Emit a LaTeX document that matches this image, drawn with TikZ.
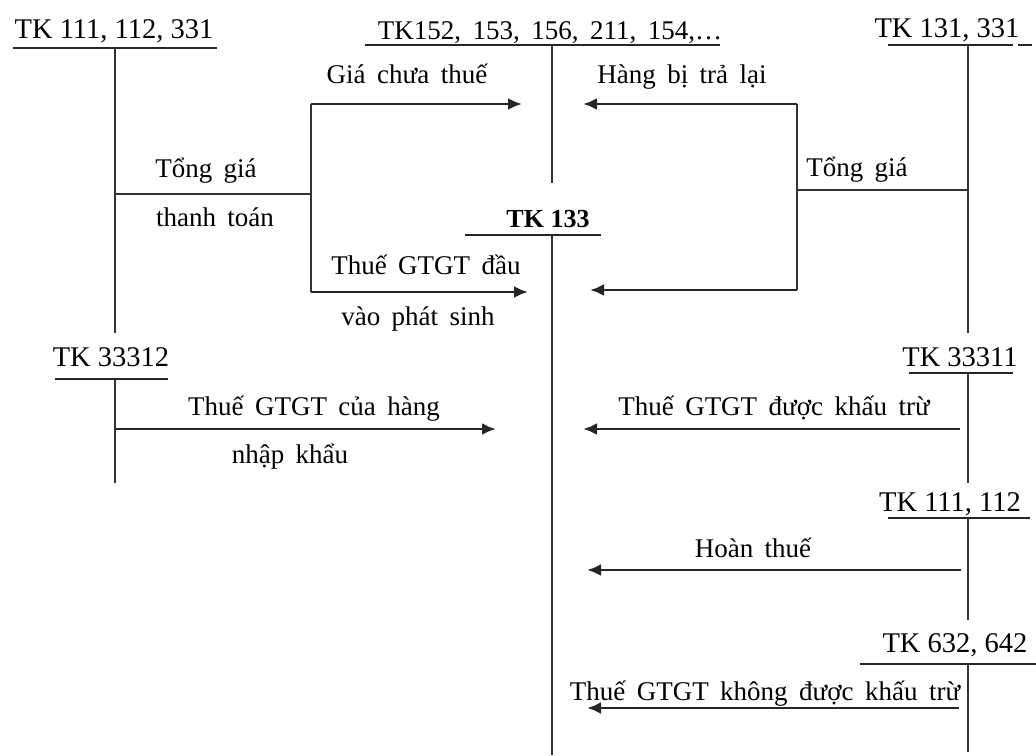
\documentclass[tikz,border=0pt]{standalone}
\usepackage{fontspec}
\setmainfont{Liberation Serif}
\newfontfamily\widefont[WordSpace=1.7]{Liberation Serif}
\usetikzlibrary{arrows.meta}
\begin{document}
\begin{tikzpicture}[x=1pt,y=-1pt,
  txt/.style={inner sep=0pt,anchor=base,font=\fontsize{28.5}{32}\selectfont},
  lbl/.style={inner sep=0pt,anchor=base,font=\widefont\fontsize{27}{32}\selectfont},
  acct/.style={line width=2pt,draw=black!80},
  uline/.style={line width=2.8pt,draw=black!85},
  link/.style={line width=2pt,draw=black!80},
  flow/.style={line width=2.8pt,draw=black!85,-{Latex[length=14pt,width=12pt]}}]
\useasboundingbox (0,0) rectangle (1036,755);

% account headings
\node[txt] (h1) at (114,38) {TK 111, 112, 331};
\node[lbl] (h2) at (550,39) {TK152, 153, 156, 211, 154,\ldots};
\node[txt] (h3) at (947,37) {TK 131, 331};
\node[txt,font=\bfseries\fontsize{26}{32}\selectfont] (h4) at (548,227) {TK 133};
\node[txt] (h5) at (111,366) {TK 33312};
\node[txt] (h6) at (960,366) {TK 33311};
\node[txt] (h7) at (950,511) {TK 111, 112};
\node[txt] (h8) at (955,652) {TK 632, 642};

% T-account bars
\coordinate (u1a) at (13,48);   \coordinate (u1b) at (217,48);
\coordinate (u2a) at (365,45);  \coordinate (u2b) at (720,45);
\coordinate (u3a) at (888,45);  \coordinate (u3b) at (1013,45);
\coordinate (u3c) at (1018,45); \coordinate (u3d) at (1032,45);
\coordinate (u4a) at (465,235); \coordinate (u4b) at (601,235);
\coordinate (u5a) at (55,379);  \coordinate (u5b) at (168,379);
\coordinate (u6a) at (909,373); \coordinate (u6b) at (1013,373);
\coordinate (u7a) at (888,518); \coordinate (u7b) at (1030,518);
\coordinate (u8a) at (860,664); \coordinate (u8b) at (1036,664);
\draw[uline] (u1a) -- (u1b);
\draw[uline] (u2a) -- (u2b);
\draw[uline] (u3a) -- (u3b);
\draw[uline] (u3c) -- (u3d);
\draw[uline] (u4a) -- (u4b);
\draw[uline] (u5a) -- (u5b);
\draw[uline] (u6a) -- (u6b);
\draw[uline] (u7a) -- (u7b);
\draw[uline] (u8a) -- (u8b);

% vertical stems
\coordinate (v1t) at (115,48);  \coordinate (v1b) at (115,333);
\coordinate (v2t) at (552,45);  \coordinate (v2b) at (552,183);
\coordinate (v3t) at (968,45);  \coordinate (v3b) at (968,333);
\coordinate (v4t) at (552,235); \coordinate (v4b) at (552,755);
\coordinate (v5t) at (115,379); \coordinate (v5b) at (115,483);
\coordinate (v6t) at (968,373); \coordinate (v6b) at (968,483);
\coordinate (v7t) at (968,518); \coordinate (v7b) at (968,620);
\coordinate (v8t) at (968,664); \coordinate (v8b) at (968,752);
\draw[acct] (v1t) -- (v1b);
\draw[acct] (v2t) -- (v2b);
\draw[acct] (v3t) -- (v3b);
\draw[acct] (v4t) -- (v4b);
\draw[acct] (v5t) -- (v5b);
\draw[acct] (v6t) -- (v6b);
\draw[acct] (v7t) -- (v7b);
\draw[acct] (v8t) -- (v8b);

% purchase: total price split into net price and input VAT
\coordinate (lA) at (115,194);
\coordinate (lB) at (311,194);
\coordinate (lT) at (311,104);
\coordinate (lD) at (311,292);
\coordinate (lTe) at (522,104);
\coordinate (lDe) at (528,292);
\draw[link] (lA) -- (lB);
\draw[link] (lT) -- (lD);
\draw[flow] (lT) -- (lTe);
\draw[flow] (lD) -- (lDe);

% returned goods
\coordinate (rA) at (968,190);
\coordinate (rB) at (797,190);
\coordinate (rT) at (797,104);
\coordinate (rD) at (797,290);
\coordinate (rTe) at (583,104);
\coordinate (rDe) at (590,290);
\draw[link] (rA) -- (rB);
\draw[link] (rT) -- (rD);
\draw[flow] (rT) -- (rTe);
\draw[flow] (rD) -- (rDe);

% remaining flows
\coordinate (iS) at (115,429); \coordinate (iE) at (496,429);
\coordinate (dS) at (960,429); \coordinate (dE) at (583,429);
\coordinate (hS) at (961,570); \coordinate (hE) at (587,570);
\coordinate (kS) at (959,708); \coordinate (kE) at (587,708);
\draw[flow] (iS) -- (iE);
\draw[flow] (dS) -- (dE);
\draw[flow] (hS) -- (hE);
\draw[flow] (kS) -- (kE);

% labels
\node[lbl] (t1) at (407,83) {Giá chưa thuế};
\node[lbl] (t2) at (682,83) {Hàng bị trả lại};
\node[lbl] (t3) at (206,177) {Tổng giá};
\node[lbl] (t4) at (215,226) {thanh toán};
\node[lbl] (t5) at (426,274) {Thuế GTGT đầu};
\node[lbl] (t6) at (418,325) {vào phát sinh};
\node[lbl] (t7) at (857,176) {Tổng giá};
\node[lbl] (t8) at (314,415) {Thuế GTGT của hàng};
\node[lbl] (t9) at (290,463) {nhập khẩu};
\node[lbl] (t10) at (774,415) {Thuế GTGT được khấu trừ};
\node[lbl] (t11) at (753,557) {Hoàn thuế};
\node[lbl] (t12) at (765,700) {Thuế GTGT không được khấu trừ};
\end{tikzpicture}
\end{document}
